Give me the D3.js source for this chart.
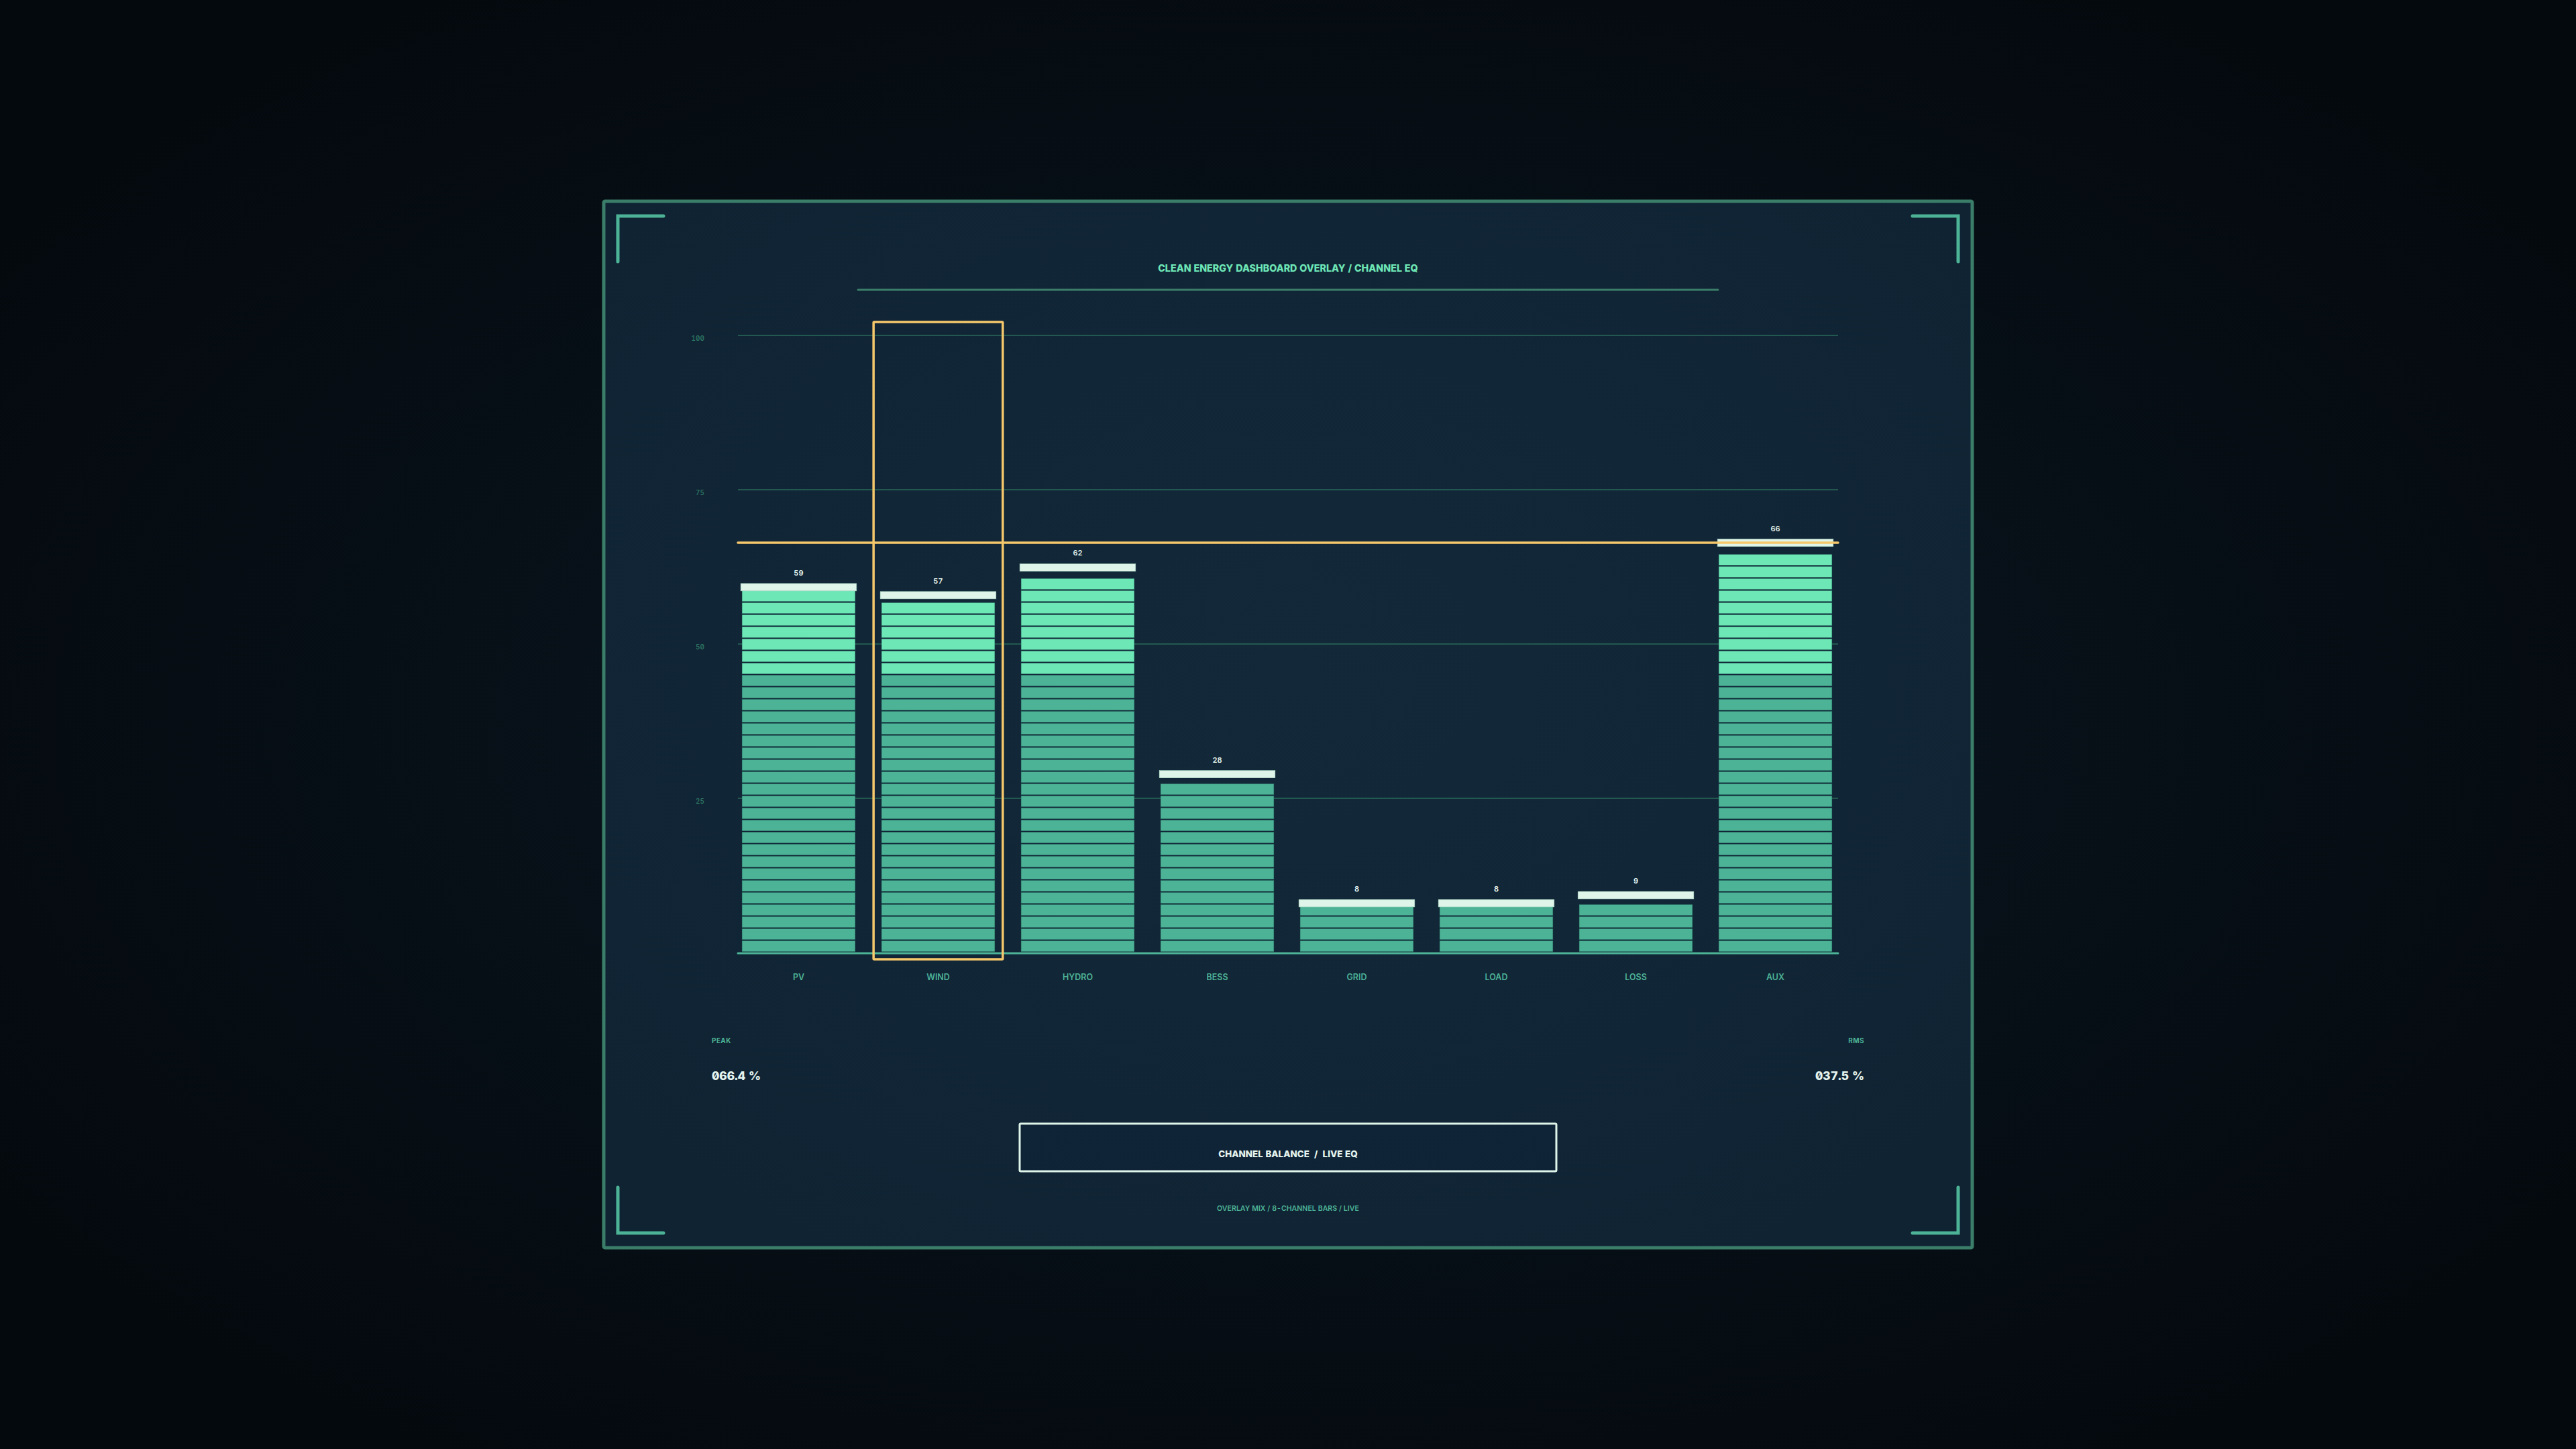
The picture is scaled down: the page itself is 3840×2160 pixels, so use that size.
<!DOCTYPE html>
<html>
<head>
<meta charset="utf-8">
<script src="https://cdn.jsdelivr.net/npm/d3@7"></script>
<style>
  html, body { margin: 0; padding: 0; background: #050b11; }
  svg { display: block; }
  text { font-family: "Inter", "Roboto", sans-serif; font-feature-settings: "zero" 1, "tnum" 1; }
</style>
</head>
<body>
<svg id="chart" width="3840" height="2160"></svg>
<script>
// ---- data ----
const categories = ["PV", "WIND", "HYDRO", "BESS", "GRID", "LOAD", "LOSS", "AUX"];
const values = [59.2, 57.9, 62.4, 28.9, 8.0, 8.0, 9.3, 66.4];
const yTicks = [25, 50, 75, 100];
const highlightCategory = "WIND";
const splitValue = 45;              // below: deep teal segments, above: mint segments
const titleText = "CLEAN ENERGY DASHBOARD OVERLAY / CHANNEL EQ";
const boxText = "CHANNEL BALANCE  /  LIVE EQ";
const footerText = "OVERLAY MIX / 8-CHANNEL BARS / LIVE";
const leftStatLabel = "PEAK";
const rightStatLabel = "RMS";

// ---- styles ----
const C = {
  mint: "#6ee7b7", teal: "#4db396", cap: "#dff5ea", white: "#e6f5ef",
  grid: "#296a5a", tick: "#2f7a66", frame: "#3a7d68", orange: "#f6c86c"
};

const svg = d3.select("#chart");
const W = 3840, H = 2160;
const defs = svg.append("defs");

const bgGrad = defs.append("radialGradient").attr("id", "bg").attr("cx", "50%").attr("cy", "50%").attr("r", "60%");
bgGrad.append("stop").attr("offset", "0%").attr("stop-color", "#0b1822");
bgGrad.append("stop").attr("offset", "100%").attr("stop-color", "#04090e");

const panelGrad = defs.append("radialGradient").attr("id", "panel").attr("cx", "50%").attr("cy", "45%").attr("r", "65%");
panelGrad.append("stop").attr("offset", "0%").attr("stop-color", "#13293a");
panelGrad.append("stop").attr("offset", "100%").attr("stop-color", "#0f2333");

svg.append("rect").attr("width", W).attr("height", H).attr("fill", "url(#bg)");

// panel
const P = { x: 900, y: 300, w: 2040, h: 1560 };
svg.append("rect").attr("x", P.x).attr("y", P.y).attr("width", P.w).attr("height", P.h)
  .attr("rx", 2).attr("fill", "url(#panel)").attr("stroke", C.frame).attr("stroke-width", 5);

// corner brackets
const inset = 21, arm = 68;
const L = P.x + inset, R = P.x + P.w - inset, T = P.y + inset + 1, B = P.y + P.h - inset - 1;
const brackets = [
  [[L, T + arm], [L, T], [L + arm, T]],
  [[R - arm, T], [R, T], [R, T + arm]],
  [[L, B - arm], [L, B], [L + arm, B]],
  [[R, B - arm], [R, B], [R - arm, B]]
];
svg.append("g").selectAll("path").data(brackets).join("path")
  .attr("d", d => d3.line()(d)).attr("fill", "none").attr("stroke", C.teal)
  .attr("stroke-width", 5).attr("stroke-linecap", "round").attr("stroke-linejoin", "miter");

// title
svg.append("text").attr("x", 1920).attr("y", 405).attr("text-anchor", "middle")
  .attr("font-size", 14.3).attr("font-weight", 800).attr("fill", C.mint).text(titleText);
svg.append("line").attr("x1", 1279).attr("x2", 2561).attr("y1", 432).attr("y2", 432)
  .attr("stroke", C.frame).attr("stroke-width", 3).attr("stroke-linecap", "round");

// scales
const plot = { left: 1100, right: 2740, top: 500, bottom: 1420 };
const x = d3.scaleBand().domain(categories).range([plot.left, plot.right - 3]).paddingInner(0.17).paddingOuter(0.02);
const y = d3.scaleLinear().domain([0, 100]).range([plot.bottom, plot.top]);

// grid
const grid = svg.append("g");
grid.selectAll("line").data(yTicks).join("line")
  .attr("x1", plot.left).attr("x2", plot.right)
  .attr("y1", d => y(d)).attr("y2", d => y(d))
  .attr("stroke", C.grid).attr("stroke-width", 1.6);

// y axis labels via d3 axis
const yAxis = d3.axisLeft(y).tickValues(yTicks).tickSize(0).tickPadding(0).tickFormat(d3.format("d"));
const yg = svg.append("g").attr("transform", `translate(${plot.left - 50},0)`).call(yAxis);
yg.select(".domain").remove();
yg.selectAll("text").attr("font-size", 10).attr("font-weight", 500).attr("fill", C.tick)
  .attr("dy", "0.75em").attr("font-family", "Inter");

// bars
const segPitch = 18, segH = 16;
const bw = x.bandwidth();
const barG = svg.append("g");
categories.forEach((cat, i) => {
  const v = values[i];
  const x0 = x(cat);
  const base = y(0);
  const n = Math.floor((base - y(v)) / segPitch);
  const segs = d3.range(n);
  barG.append("g").selectAll("rect").data(segs).join("rect")
    .attr("x", x0 + 2).attr("width", bw - 4)
    .attr("y", s => base - (s + 1) * segPitch + 0.5).attr("height", segH)
    .attr("fill", s => (y.invert(base - s * segPitch) < splitValue - 0.01) ? C.teal : C.mint)
    .attr("stroke", "#2f7f6c").attr("stroke-width", 0.6).attr("stroke-opacity", 0.6);
  // peak cap
  barG.append("rect").attr("x", x0).attr("width", bw).attr("y", y(v) - 5.5).attr("height", 11)
    .attr("fill", C.cap).attr("stroke", "#a9d9c4").attr("stroke-width", 0.6);
  // value label
  barG.append("text").attr("x", x0 + bw / 2).attr("y", y(v) - 17.5).attr("text-anchor", "middle")
    .attr("font-size", 11).attr("font-weight", 600).attr("fill", C.white).text(Math.floor(v));
});

// baseline
svg.append("line").attr("x1", plot.left).attr("x2", plot.right).attr("y1", y(0) + 1).attr("y2", y(0) + 1)
  .attr("stroke", C.teal).attr("stroke-width", 3).attr("stroke-linecap", "round");

// category labels via axis
const xAxis = d3.axisBottom(x).tickSize(0).tickPadding(0);
const xg = svg.append("g").attr("transform", `translate(0,${y(0) + 41})`).call(xAxis);
xg.select(".domain").remove();
xg.selectAll("text").attr("font-size", 12.5).attr("font-weight", 600).attr("fill", C.teal)
  .attr("dy", "0").attr("font-family", "Inter");

// threshold (peak) line
const peak = d3.max(values);
const mean = d3.mean(values);
svg.append("line").attr("x1", plot.left).attr("x2", plot.right).attr("y1", y(peak)).attr("y2", y(peak))
  .attr("stroke", C.orange).attr("stroke-width", 3.5).attr("stroke-linecap", "round");

// highlight box
svg.append("rect").attr("x", x(highlightCategory) - 10).attr("y", y(100) - 20)
  .attr("width", bw + 20).attr("height", y(0) + 10 - (y(100) - 20))
  .attr("fill", "none").attr("stroke", C.orange).attr("stroke-width", 3.5).attr("rx", 1);

// stats
const fmt = d => d3.format("05.1f")(d) + " %";
svg.append("text").attr("x", 1061).attr("y", 1555).attr("font-size", 10).attr("font-weight", 700)
  .attr("fill", C.teal).attr("letter-spacing", 0.4).text(leftStatLabel);
svg.append("text").attr("x", 1061).attr("y", 1610).attr("font-size", 17.6).attr("font-weight", 800)
  .attr("fill", C.white).text(fmt(peak));
svg.append("text").attr("x", 2779).attr("y", 1555).attr("text-anchor", "end").attr("font-size", 10).attr("font-weight", 700)
  .attr("fill", C.teal).attr("letter-spacing", 0.4).text(rightStatLabel);
svg.append("text").attr("x", 2779).attr("y", 1610).attr("text-anchor", "end").attr("font-size", 17.6).attr("font-weight", 800)
  .attr("fill", C.white).text(fmt(mean));

// bottom box
svg.append("rect").attr("x", 1520).attr("y", 1675).attr("width", 800).attr("height", 71)
  .attr("fill", "#10243a").attr("fill-opacity", 0.4).attr("stroke", C.cap).attr("stroke-width", 3).attr("rx", 1.5);
svg.append("text").attr("x", 1920).attr("y", 1725).attr("text-anchor", "middle").style("white-space", "pre")
  .attr("font-size", 13.4).attr("font-weight", 800).attr("fill", C.white).text(boxText);
svg.append("text").attr("x", 1920).attr("y", 1805).attr("text-anchor", "middle").style("white-space", "pre")
  .attr("font-size", 10.6).attr("font-weight", 600).attr("fill", C.teal).text(footerText);
</script>
</body>
</html>
